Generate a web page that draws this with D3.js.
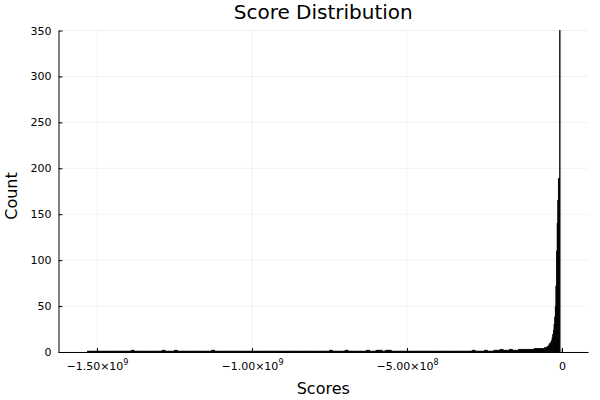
<!DOCTYPE html>
<html>
<head>
<meta charset="utf-8">
<script src="https://cdn.jsdelivr.net/npm/d3@7"></script>
<style>
  body { margin: 0; background: #fff; }
  svg { font-family: "DejaVu Sans", sans-serif; }
</style>
</head>
<body>
<svg id="chart" width="600" height="400"></svg>
<script>
// histogram: long sparse tail, then a sharp peak just below 0
var tailStart = -1.53e9;
var tailWidth = 1e7;
var tailCounts = [
  1,1,1,1,1,1,1,1,1,1,
  1,1,1,1,2,1,1,1,1,1,
  1,1,1,1,2,1,1,1,2,1,
  1,1,1,1,1,1,1,1,1,1,
  2,1,1,1,1,1,1,1,1,1,
  1,1,1,1,1,1,1,1,1,1,
  1,1,1,1,1,1,1,1,1,1,
  1,1,1,1,1,1,1,1,2,1,
  1,1,1,2,1,1,1,1,1,1,
  2,1,1,2,2,1,2,2,1,1,
  1,1,1,1,1,1,1,1,1,1,
  1,1,1,1,1,1,1,1,1,1,
  1,1,1,1,2,1,1,1,2,1,
  1,2,2,3,2,2,3,2,2,3,
  3,3,3,3,4,4,4
];
var peakStart = -6e7;
var peakWidth = 2e6;
var peakCounts = [
  4,4,5,4,5,5,6,6,7,8,
  9,10,11,13,16,19,24,30,38,50,
  72,110,140,165,189,189,350,0,0,0,
  3,0
];

var xTicks = [-1.5e9, -1e9, -5e8, 0];
var xTickLabels = [["−1.50×10", "9"], ["−1.00×10", "9"], ["−5.00×10", "8"], ["0", ""]];
var yTicks = [0, 50, 100, 150, 200, 250, 300, 350];

var dims = { left: 58.5, right: 588, top: 30.5, bottom: 352 };

var svg = d3.select("#chart");

var xScale = d3.scaleLinear().domain([-1.624e9, 8.39e7]).range([dims.left, dims.right]);
var yScale = d3.scaleLinear().domain([0, 350]).range([dims.bottom, dims.top]);

// build bins from the two count arrays
var bins = [];
tailCounts.forEach((c, i) => {
  bins.push({ x0: tailStart + i * tailWidth, x1: tailStart + (i + 1) * tailWidth, count: c });
});
peakCounts.forEach((c, i) => {
  bins.push({ x0: peakStart + i * peakWidth, x1: peakStart + (i + 1) * peakWidth, count: c });
});

// grid
var grid = svg.append("g").attr("stroke", "#000").attr("stroke-opacity", 0.1).attr("stroke-width", 0.5);
grid.selectAll(".gx").data(xTicks).enter().append("line")
  .attr("x1", (d) => xScale(d)).attr("x2", (d) => xScale(d))
  .attr("y1", dims.top).attr("y2", dims.bottom);
grid.selectAll(".gy").data(yTicks).enter().append("line")
  .attr("x1", dims.left).attr("x2", dims.right)
  .attr("y1", (d) => yScale(d)).attr("y2", (d) => yScale(d));

// bars (black outline like the original, bins are narrower than a pixel near 0)
svg.append("g").selectAll("rect").data(bins.filter((d) => d.count > 0)).enter().append("rect")
  .attr("x", (d) => xScale(d.x0))
  .attr("width", (d) => xScale(d.x1) - xScale(d.x0))
  .attr("y", (d) => yScale(d.count))
  .attr("height", (d) => yScale(0) - yScale(d.count))
  .attr("fill", "#000")
  .attr("stroke", "#000")
  .attr("stroke-width", 0.6);

// axes
var xAxis = d3.axisBottom(xScale).tickValues(xTicks).tickSizeInner(-4).tickSizeOuter(0).tickPadding(8).tickFormat("");
var yAxis = d3.axisLeft(yScale).tickValues(yTicks).tickSizeInner(-4).tickSizeOuter(0).tickPadding(7);

var gx = svg.append("g").attr("transform", "translate(0," + dims.bottom + ")").call(xAxis);
var gy = svg.append("g").attr("transform", "translate(" + dims.left + ",0)").call(yAxis);

[gx, gy].forEach((g) => {
  g.select(".domain").attr("stroke", "#000").attr("stroke-width", 1);
  g.selectAll(".tick line").attr("stroke", "#000");
  g.selectAll("text").attr("font-family", "DejaVu Sans").attr("font-size", 11).attr("fill", "#000");
});

// x tick labels with superscript exponent
gx.selectAll(".tick text").each(function (d, i) {
  var t = d3.select(this).attr("dy", null).attr("y", 18);
  t.append("tspan").text(xTickLabels[i][0]);
  if (xTickLabels[i][1]) {
    t.append("tspan").attr("font-size", 8).attr("dy", -5).text(xTickLabels[i][1]);
  }
});

// title and axis labels
svg.append("text")
  .text("Score Distribution")
  .attr("x", (dims.left + dims.right) / 2)
  .attr("y", 19)
  .attr("text-anchor", "middle")
  .attr("font-size", 20);

svg.append("text")
  .text("Scores")
  .attr("x", (dims.left + dims.right) / 2)
  .attr("y", 394)
  .attr("text-anchor", "middle")
  .attr("font-size", 16);

svg.append("text")
  .text("Count")
  .attr("transform", "translate(17,196) rotate(-90)")
  .attr("text-anchor", "middle")
  .attr("font-size", 16);
</script>
</body>
</html>
